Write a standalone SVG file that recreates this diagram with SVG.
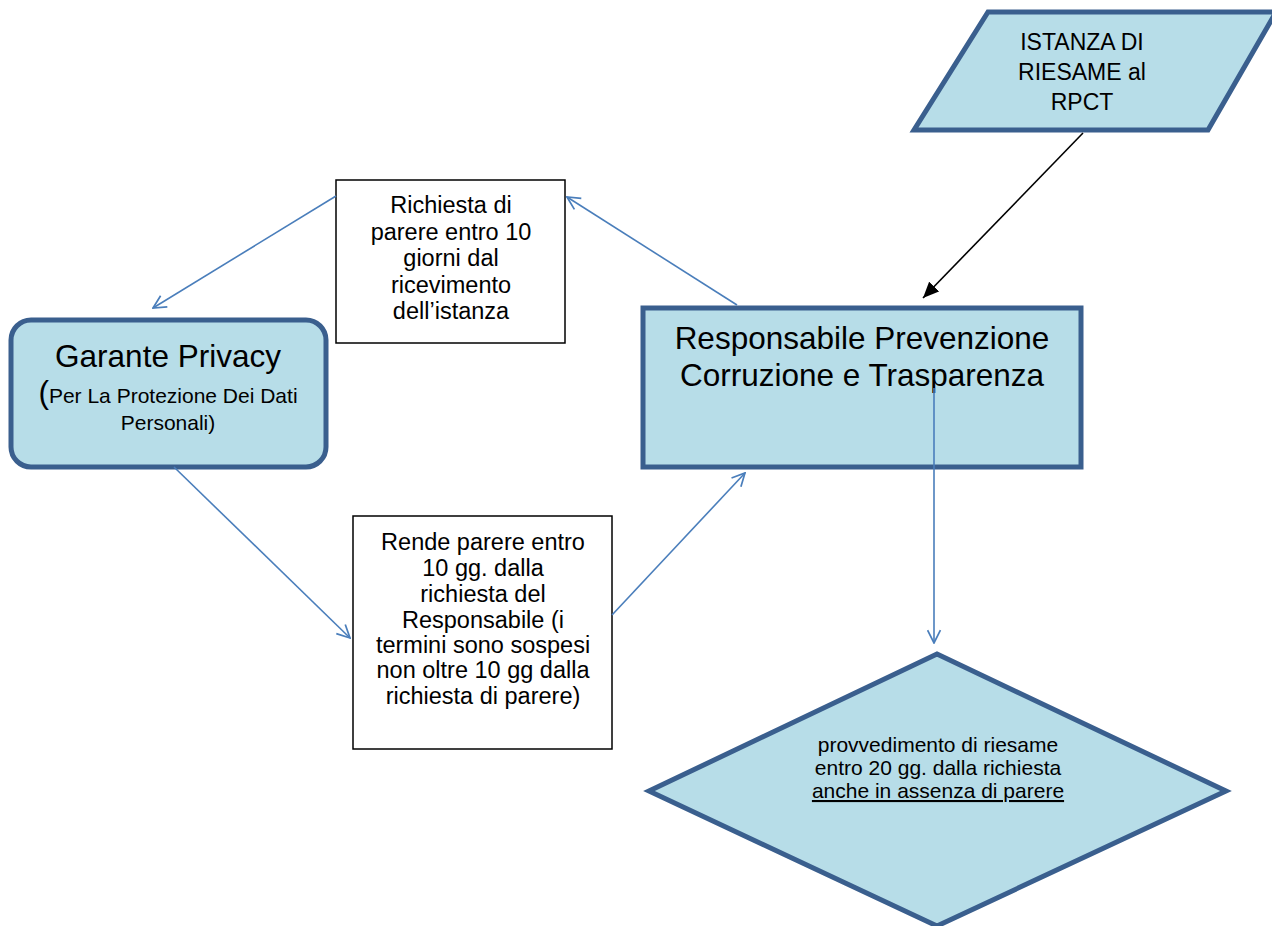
<svg xmlns="http://www.w3.org/2000/svg" width="1272" height="926" viewBox="0 0 1272 926">
<defs>
<style>
.node{fill:#b7dde8;stroke:#3a5f8e;stroke-width:5}
.box{fill:#ffffff;stroke:#000000;stroke-width:1.5}
text{font-family:"Liberation Sans",Arial,sans-serif;fill:#000;text-anchor:middle}
.big{font-size:31.5px}
.mid{font-size:23.5px}
.sm{font-size:21px}
.con{fill:none;stroke:#4a7ebb;stroke-width:1.6}
</style>
<marker id="open" viewBox="0 0 14 14" refX="13" refY="7" markerWidth="15" markerHeight="15" orient="auto" markerUnits="userSpaceOnUse">
<path d="M1,1 L13,7 L1,13" fill="none" stroke="#4a7ebb" stroke-width="1.6"/>
</marker>
<marker id="solid" viewBox="0 0 16 14" refX="16" refY="7" markerWidth="16" markerHeight="14" orient="auto" markerUnits="userSpaceOnUse">
<path d="M0,0 L16,7 L0,14 Z" fill="#000"/>
</marker>
</defs>
<rect width="1272" height="926" fill="#ffffff"/>

<g id="istanza">
<polygon class="node" points="988,12 1276,12 1208,130 914,130"/>
<text style="font-size:23px"><tspan x="1082" y="50">ISTANZA DI</tspan><tspan x="1082" y="80">RIESAME al</tspan><tspan x="1082" y="110">RPCT</tspan></text>
</g>

<g id="garante">
<rect class="node" x="11" y="320" width="315" height="147" rx="20" ry="20"/>
<text class="big" x="168" y="367">Garante Privacy</text>
<text x="168" y="403"><tspan style="font-size:31.5px">(</tspan><tspan style="font-size:21px">Per La Protezione Dei Dati</tspan></text>
<text class="sm" x="168" y="430">Personali)</text>
</g>

<g id="rpct">
<rect class="node" x="643" y="308" width="438" height="159"/>
<text class="big" x="862" y="349">Responsabile Prevenzione</text>
<text class="big" x="862" y="386">Corruzione e Trasparenza</text>
</g>

<g id="richiesta">
<rect class="box" x="336" y="180" width="229" height="163"/>
<text class="mid"><tspan x="451" y="213">Richiesta di</tspan><tspan x="451" y="240">parere entro 10</tspan><tspan x="451" y="266">giorni dal</tspan><tspan x="451" y="293">ricevimento</tspan><tspan x="451" y="319">dell’istanza</tspan></text>
</g>

<g id="rende">
<rect class="box" x="353" y="516" width="259" height="233"/>
<text class="mid"><tspan x="483" y="550">Rende parere entro</tspan><tspan x="483" y="576">10 gg. dalla</tspan><tspan x="483" y="602">richiesta del</tspan><tspan x="483" y="628">Responsabile (i</tspan><tspan x="483" y="653">termini sono sospesi</tspan><tspan x="483" y="678">non oltre 10 gg dalla</tspan><tspan x="483" y="704">richiesta di parere)</tspan></text>
</g>

<g id="provvedimento">
<polygon class="node" points="937,654 1226,791 937,926 649,791"/>
<text style="font-size:21px"><tspan x="938" y="752">provvedimento di riesame</tspan><tspan x="938" y="775">entro 20 gg. dalla richiesta</tspan><tspan x="938" y="798" text-decoration="underline">anche in assenza di parere</tspan></text>
</g>

<g id="connectors">
<line class="con" x1="336" y1="196" x2="153" y2="308" marker-end="url(#open)"/>
<line class="con" x1="737" y1="305" x2="567" y2="197" marker-end="url(#open)"/>
<line class="con" x1="174" y1="467" x2="350" y2="638" marker-end="url(#open)"/>
<line class="con" x1="612" y1="615" x2="745" y2="473" marker-end="url(#open)"/>
<line class="con" x1="934" y1="388" x2="934" y2="643" marker-end="url(#open)"/>
<line x1="1083" y1="133" x2="923" y2="298" stroke="#000" stroke-width="1.6" marker-end="url(#solid)"/>
</g>
</svg>
